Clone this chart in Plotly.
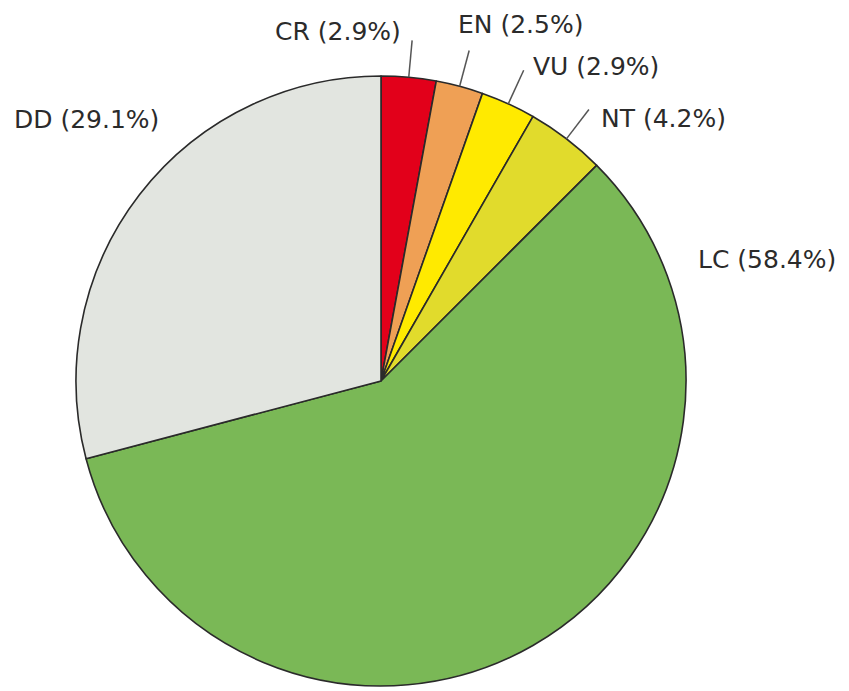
import math
import plotly.graph_objects as go

# ---- data ----
categories = ["CR", "EN", "VU", "NT", "LC", "DD"]
percentages = [2.9, 2.5, 2.9, 4.2, 58.4, 29.1]
colors = ["#E2001A", "#EFA055", "#FFEA00", "#E1DB2C", "#7AB856", "#E2E5E0"]
leader_categories = ["CR", "EN", "VU", "NT"]

# ---- layout constants (pixels, screen coordinates) ----
W, H = 849, 691
OFF = 8  # page body margin offset
CX, CY, R = 381, 381, 305
LEADER_LEN = 37
# label anchor positions (px) and anchors
label_pos = {
    "CR": (403, 31, "right"),
    "EN": (456, 25, "left"),
    "VU": (531, 67, "left"),
    "NT": (599, 118, "left"),
    "LC": (696, 259, "left"),
    "DD": (12, 120, "left"),
}

def px(x):
    return (x - OFF) / W

def py(y):
    return 1 - (y - OFF) / H

fig = go.Figure(go.Pie(
    labels=categories,
    values=percentages,
    sort=False,
    direction="clockwise",
    rotation=0,
    marker=dict(colors=colors, line=dict(color="#2a2a2a", width=1.6)),
    textinfo="none",
    hoverinfo="label+percent",
    showlegend=False,
    domain=dict(x=[px(CX - R), px(CX + R)], y=[py(CY + R), py(CY - R)]),
))

# leader lines computed from slice mid-angles
total = sum(percentages)
cum = 0.0
shapes = []
for cat, v in zip(categories, percentages):
    mid = (cum + v / 2) / total * 2 * math.pi
    cum += v
    if cat in leader_categories:
        sx, sy = CX + R * math.sin(mid), CY - R * math.cos(mid)
        ex, ey = CX + (R + LEADER_LEN) * math.sin(mid), CY - (R + LEADER_LEN) * math.cos(mid)
        shapes.append(dict(type="line", xref="paper", yref="paper",
                           x0=px(sx), y0=py(sy), x1=px(ex), y1=py(ey),
                           line=dict(color="#555555", width=1.5)))

annotations = []
for cat, v in zip(categories, percentages):
    x, y, anchor = label_pos[cat]
    annotations.append(dict(
        text=f"{cat} ({v}%)", x=px(x), y=py(y), xref="paper", yref="paper",
        xanchor=anchor, yanchor="middle", showarrow=False,
        font=dict(family="DejaVu Sans", size=25, color="#2b2b2b"),
    ))

fig.update_layout(
    width=W, height=H,
    margin=dict(l=0, r=0, t=0, b=0),
    paper_bgcolor="white", plot_bgcolor="white",
    shapes=shapes, annotations=annotations,
)

fig.write_html("out.html")
